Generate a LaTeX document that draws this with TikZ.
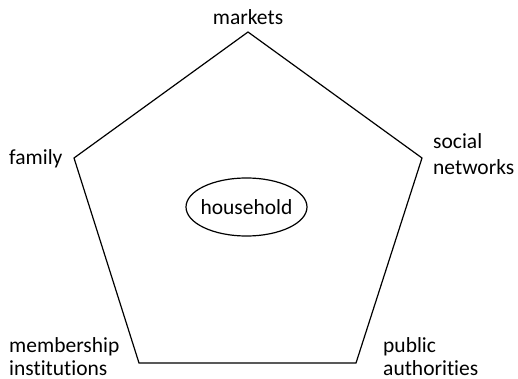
\documentclass[tikz,border=0pt]{standalone}
\usepackage{fontspec}
\setmainfont{Carlito}[Ligatures={NoCommon}]
\usetikzlibrary{shapes.geometric}
\begin{document}
\begin{tikzpicture}[x=1pt,y=-1pt,
  lbl/.style={font=\fontsize{21.5}{24}\selectfont, inner sep=0pt},
  edge/.style={line width=1.2pt, line join=miter}]
\useasboundingbox (0,0) rectangle (518,379);
\coordinate (T) at (248,32);
\coordinate (R) at (422,158);
\coordinate (BR) at (356,363);
\coordinate (BL) at (139,363);
\coordinate (L) at (74,158);
\draw[edge] (T) -- (R) -- (BR) -- (BL) -- (L) -- cycle;
\node[lbl] (hh) at (246.5,207) {household};
\draw[edge] (hh.center) ellipse [x radius=60.5pt, y radius=29pt];
\node[lbl, anchor=base] (mk) at (248,25) {markets};
\node[lbl, anchor=base west] (fam) at (9,165) {family};
\node[lbl, anchor=base west, align=left] (sn1) at (433,149) {social};
\node[lbl, anchor=base west, align=left] (sn2) at (433,175) {networks};
\node[lbl, anchor=base west] (mb1) at (9,352) {membership};
\node[lbl, anchor=base west] (mb2) at (9,375) {institutions};
\node[lbl, anchor=base west] (pa1) at (383,352) {public};
\node[lbl, anchor=base west] (pa2) at (383,375) {authorities};
\end{tikzpicture}
\end{document}
